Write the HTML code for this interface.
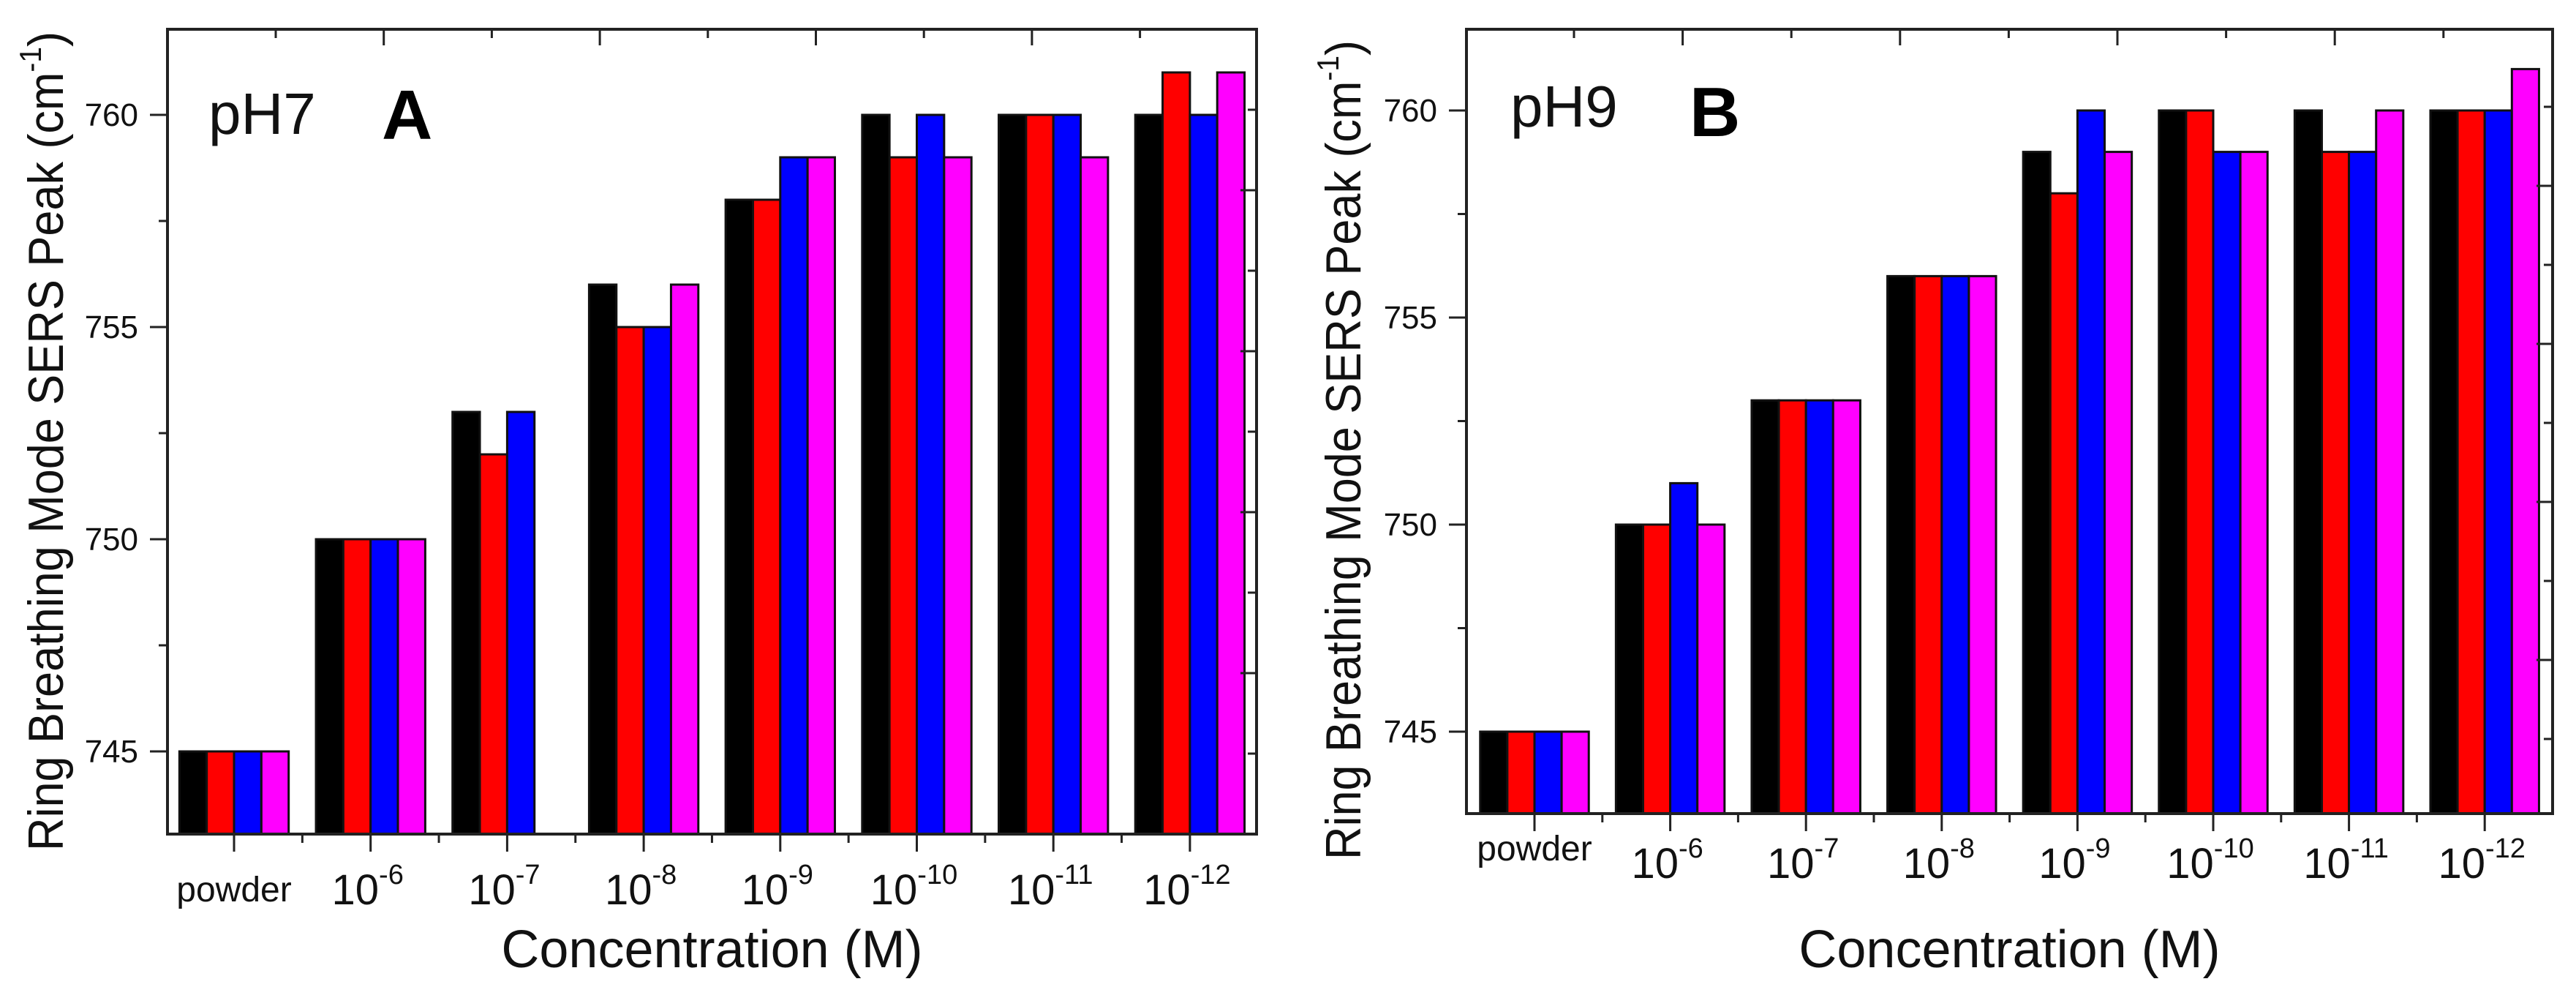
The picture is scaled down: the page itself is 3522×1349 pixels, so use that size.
<!DOCTYPE html>
<html><head><meta charset="utf-8"><style>
html,body{margin:0;padding:0;background:#fff;}
svg{display:block;font-family:"Liberation Sans",sans-serif;}
</style></head><body>
<svg id="fig" width="3522" height="1349" viewBox="0 0 3522 1349" xmlns="http://www.w3.org/2000/svg"></svg>
<script>
const categories = ["powder","-6","-7","-8","-9","-10","-11","-12"];
const seriesColors = ["#000000","#ff0000","#0000ff","#ff00ff"];
const a_black   = [745,750,753,756,758,760,760,760];
const a_red     = [745,750,752,755,758,759,760,761];
const a_blue    = [745,750,753,755,759,760,760,760];
const a_magenta = [745,750,null,756,759,759,759,761];
const b_black   = [745,750,753,756,759,760,760,760];
const b_red     = [745,750,753,756,758,760,759,760];
const b_blue    = [745,751,753,756,760,759,759,760];
const b_magenta = [745,750,753,756,759,759,760,761];
const yTicks = [745,750,755,760];

const NS="http://www.w3.org/2000/svg";
const svg=document.getElementById('fig');
function el(tag,attrs,parent){const e=document.createElementNS(NS,tag);for(const k in attrs)e.setAttribute(k,attrs[k]);(parent||svg).appendChild(e);return e;}

function panel(cfg){
  const g=el('g',{});
  
  
  const L=cfg.left,R=cfg.right,T=cfg.top,B=cfg.bottom;
  const c0=cfg.c0,cw=cfg.cw;
  const y=v=>cfg.y745-(v-745)*cfg.ppu;
  const xc=i=>c0+i*cw;
  const series=cfg.series;
  const gw=cw*0.8,bw=gw/4;
  // bars
  categories.forEach((c,i)=>{
    series.forEach((s,k)=>{
      const v=s[i]; if(v===null||v===undefined) return;
      const x=xc(i)-gw/2+k*bw;
      const r=el('rect',{x:x,y:y(v),width:bw,height:B-y(v),fill:seriesColors[k],stroke:'#111','stroke-width':3},g);
      
      
    });
  });
  // frame
  const f=el('rect',{x:L,y:T,width:R-L,height:B-T,fill:'none',stroke:'#222','stroke-width':4},g);
  
  
  // left ticks
  for(let v=745;v<=762;v+=2.5){
    if(y(v)<T||y(v)>B) continue;
    const major=(v%5===0);
    el('line',{x1:L,x2:L-(major?24:12),y1:y(v),y2:y(v),stroke:'#222','stroke-width':3},g);
  }
  yTicks.forEach(v=>{
    const t=el('text',{x:L-40,y:y(v)+15,'font-size':44,'text-anchor':'end',fill:'#111'},g);
    t.textContent=v;
    
    
  });
  // right ticks
  let idx=0;
  for(let yy=cfg.rt0;yy<B-20;yy+=cfg.rts){
    el('line',{x1:R,x2:R-(idx%2?22:12),y1:yy,y2:yy,stroke:'#222','stroke-width':3},g);idx++;
  }
  // top ticks
  for(let i=0;i<=8;i++){
    const xx=cfg.tt0+i*cfg.tts; if(xx>R-5) break;
    el('line',{x1:xx,x2:xx,y1:T,y2:T+(i%2?22:12),stroke:'#222','stroke-width':3},g);
  }
  // bottom ticks
  for(let i=0;i<categories.length;i++){
    el('line',{x1:xc(i),x2:xc(i),y1:B,y2:B+24,stroke:'#222','stroke-width':3},g);
    if(i>0) el('line',{x1:xc(i)-cw/2,x2:xc(i)-cw/2,y1:B,y2:B+12,stroke:'#222','stroke-width':3},g);
  }
  // x labels
  categories.forEach((c,i)=>{
    let t;
    if(c==='powder'){
      t=el('text',{x:xc(i),y:cfg.plb,'font-size':48,'text-anchor':'middle',fill:'#111'},g);
      t.textContent='powder';
    } else {
      t=el('text',{x:xc(i)-4,y:cfg.nlb,'font-size':58,'text-anchor':'middle',fill:'#111'},g);
      const a=el('tspan',{},t);a.textContent='10';
      const s=el('tspan',{'font-size':38,dy:-28},t);s.textContent=c;
    }
    
    
  });
  const xt=el('text',{x:(L+R)/2,y:cfg.xtb,'font-size':72,'text-anchor':'middle',fill:'#111'},g);
  xt.textContent='Concentration (M)';
  
  
  const yt=el('text',{x:0,y:0,'font-size':68,'text-anchor':'middle',fill:'#111',transform:`translate(${cfg.ytx},${cfg.yty}) rotate(-90)`,textLength:1120,lengthAdjust:'spacingAndGlyphs'},g);
  const y1=el('tspan',{},yt);y1.textContent='Ring Breathing Mode SERS Peak (cm';
  const y2=el('tspan',{'font-size':42,dy:-30},yt);y2.textContent='-1';
  const y3=el('tspan',{dy:30},yt);y3.textContent=')';
  
  
  const ph=el('text',{x:cfg.phx,y:cfg.phy,'font-size':80,fill:'#111'},g);
  ph.textContent=cfg.ph;
  
  
  const pl=el('text',{x:cfg.plx,y:cfg.ply,'font-size':96,'font-weight':'bold',fill:'#000'},g);
  pl.textContent=cfg.id;
  
  
}

panel({id:'A',left:229,right:1718,top:40,bottom:1140,c0:320,cw:186.7,y745:1027,ppu:58,
  series:[a_black,a_red,a_blue,a_magenta],rt0:150,rts:110,tt0:377,tts:147.7,
  plb:1232,nlb:1236,xtb:1322,ytx:86,yty:603,phx:285,phy:183,plx:522,ply:190,ph:'pH7'});
panel({id:'B',left:2005,right:3490,top:40,bottom:1112,c0:2098,cw:185.6,y745:1000,ppu:56.6,
  series:[b_black,b_red,b_blue,b_magenta],rt0:146,rts:108,tt0:2152,tts:148.6,
  plb:1176,nlb:1200,xtb:1322,ytx:1860,yty:615,phx:2065,phy:173,plx:2310,ply:186,ph:'pH9'});
</script>
</body></html>
